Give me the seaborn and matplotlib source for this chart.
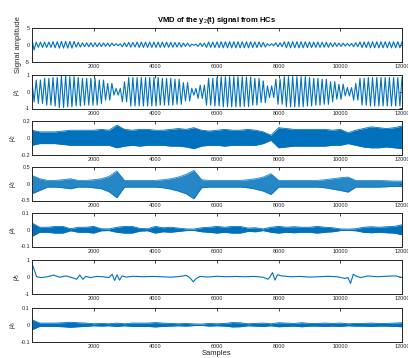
import numpy as np
import pandas as pd
import matplotlib
matplotlib.use("Agg")
import matplotlib.pyplot as plt
import seaborn as sns

# ---- data -------------------------------------------------------------
N_SAMPLES = 12000
ENV_STEP = 250          # envelope values are given every 250 samples (0..12000)

x_ticks = [2000, 4000, 6000, 8000, 10000, 12000]

# measured signal: peak amplitude per 250-sample block
sig_env = [1.6, 0.8, 0.8, 0.9, 1.0, 1.0, 0.7, 0.6, 0.6, 0.55,
           0.5, 0.3, 0.6, 0.7, 0.8, 0.8, 0.8, 0.8, 0.75, 0.7,
           0.5, 0.15, 0.5, 0.8, 0.85, 0.9, 0.9, 0.9, 0.9, 0.85,
           0.7, 0.3, 0.6, 0.9, 0.9, 0.9, 0.85, 0.8, 0.75, 0.6,
           0.5, 0.4, 0.6, 0.85, 0.9, 0.9, 0.9, 0.9, 0.9]
sig_cycles = 88

# mode 1
u1_env = [0.6, 0.7, 0.8, 0.85, 0.95, 0.9, 0.85, 0.8, 0.8, 0.7,
          0.5, 0.2, 0.6, 0.85, 0.85, 0.85, 0.85, 0.8, 0.8, 0.75,
          0.55, 0.2, 0.4, 0.8, 0.85, 0.9, 0.9, 0.9, 0.88, 0.8,
          0.65, 0.35, 0.75, 0.9, 0.9, 0.9, 0.85, 0.8, 0.75, 0.6,
          0.45, 0.25, 0.5, 0.8, 0.85, 0.85, 0.85, 0.85, 0.85]
u1_cycles = 88

# mode 2 (upper / lower envelope)
u2_up = [0.09, 0.07, 0.07, 0.07, 0.08, 0.09, 0.09, 0.09, 0.09, 0.1,
         0.09, 0.15, 0.1, 0.09, 0.1, 0.1, 0.09, 0.09, 0.1, 0.11,
         0.1, 0.12, 0.09, 0.08, 0.09, 0.1, 0.09, 0.09, 0.1, 0.09,
         0.07, 0.03, 0.12, 0.11, 0.1, 0.1, 0.1, 0.1, 0.1, 0.09,
         0.1, 0.06, 0.09, 0.11, 0.13, 0.12, 0.11, 0.12, 0.14]
u2_lo = [0.09, 0.07, 0.07, 0.07, 0.08, 0.09, 0.09, 0.09, 0.09, 0.09,
         0.09, 0.12, 0.1, 0.09, 0.1, 0.09, 0.09, 0.09, 0.1, 0.1,
         0.11, 0.13, 0.1, 0.09, 0.09, 0.1, 0.09, 0.09, 0.09, 0.09,
         0.07, 0.03, 0.12, 0.11, 0.1, 0.1, 0.1, 0.1, 0.1, 0.09,
         0.09, 0.07, 0.09, 0.11, 0.12, 0.12, 0.11, 0.12, 0.13]

# mode 3 (upper / lower envelope)
u3_up = [0.25, 0.15, 0.1, 0.1, 0.12, 0.15, 0.1, 0.1, 0.12, 0.15,
         0.22, 0.38, 0.1, 0.1, 0.1, 0.1, 0.1, 0.12, 0.15, 0.2,
         0.28, 0.4, 0.12, 0.1, 0.1, 0.1, 0.1, 0.1, 0.12, 0.15,
         0.2, 0.3, 0.1, 0.1, 0.1, 0.1, 0.1, 0.1, 0.12, 0.15,
         0.18, 0.2, 0.1, 0.1, 0.1, 0.1, 0.09, 0.08, 0.08]
u3_lo = [0.3, 0.2, 0.1, 0.1, 0.12, 0.15, 0.1, 0.1, 0.12, 0.15,
         0.24, 0.42, 0.1, 0.1, 0.1, 0.1, 0.1, 0.12, 0.16, 0.22,
         0.3, 0.45, 0.12, 0.1, 0.1, 0.1, 0.1, 0.1, 0.12, 0.16,
         0.22, 0.32, 0.1, 0.1, 0.1, 0.1, 0.1, 0.1, 0.12, 0.16,
         0.2, 0.25, 0.1, 0.1, 0.1, 0.1, 0.09, 0.08, 0.08]

# mode 4
u4_env = [0.04, 0.015, 0.015, 0.02, 0.02, 0.006, 0.015, 0.015, 0.02, 0.006,
          0.005, 0.015, 0.02, 0.02, 0.008, 0.006, 0.02, 0.012, 0.015, 0.01,
          0.005, 0.004, 0.012, 0.015, 0.02, 0.015, 0.02, 0.02, 0.01, 0.012,
          0.005, 0.015, 0.02, 0.015, 0.018, 0.015, 0.015, 0.02, 0.015, 0.012,
          0.005, 0.004, 0.006, 0.015, 0.018, 0.015, 0.018, 0.02, 0.03]

# mode 5: slow component, value at given sample positions
u5_samples = [0, 150, 300, 500, 700, 900, 1100, 1300, 1450, 1550,
              1650, 1750, 1900, 2100, 2300, 2500, 2600, 2680, 2760, 2840,
              2920, 3050, 3300, 3600, 3900, 4200, 4500, 4800, 5000, 5120,
              5230, 5330, 5450, 5700, 6000, 6300, 6600, 6900, 7200, 7500,
              7650, 7720, 7800, 7880, 7960, 8100, 8400, 8700, 9000, 9300,
              9600, 9900, 10150, 10250, 10330, 10420, 10500, 10650, 10900, 11200,
              11500, 11800, 12000]
u5_values = [0.8, 0.0, -0.05, 0.0, 0.1, -0.03, 0.05, -0.05, -0.15, 0.1,
             -0.15, 0.02, -0.05, 0.02, 0.0, -0.05, 0.15, -0.22, 0.12, -0.2,
             0.05, -0.02, 0.03, 0.0, 0.02, 0.0, -0.03, 0.02, 0.08, -0.05,
             -0.3, -0.1, 0.02, -0.02, 0.03, 0.0, 0.02, 0.0, 0.02, -0.03,
             -0.15, 0.0, 0.25, -0.2, 0.12, 0.05, 0.0, 0.02, -0.02, 0.0,
             0.03, 0.0, -0.1, -0.05, -0.4, 0.15, 0.05, -0.05, 0.05, 0.0,
             0.03, 0.05, -0.05]

# mode 6
u6_env = [0.03, 0.01, 0.01, 0.01, 0.012, 0.015, 0.012, 0.01, 0.006, 0.008,
          0.006, 0.01, 0.006, 0.01, 0.01, 0.01, 0.013, 0.01, 0.008, 0.006,
          0.008, 0.005, 0.004, 0.008, 0.006, 0.008, 0.013, 0.012, 0.006, 0.008,
          0.01, 0.006, 0.012, 0.01, 0.008, 0.012, 0.008, 0.008, 0.01, 0.008,
          0.01, 0.006, 0.008, 0.008, 0.01, 0.008, 0.008, 0.01, 0.012]

y_labels = ["Signal amplitude", r"$\mu_1$", r"$\mu_2$", r"$\mu_3$",
            r"$\mu_4$", r"$\mu_5$", r"$\mu_6$"]
y_limits = [5, 1, 0.2, 0.5, 0.1, 1, 0.1]
y_ticklabels = [["-5", "0", "5"], ["-1", "0", "1"], ["-0.2", "0", "0.2"],
                ["-0.5", "0", "0.5"], ["-0.1", "0", "0.1"], ["-1", "0", "1"],
                ["-0.1", "0", "0.1"]]

LINE_COLOR = "#0072BD"
EDGE_COLOR = "#262626"


def oscillation(env, cycles):
    """Alternating extrema whose heights follow the block envelope."""
    env = np.asarray(env, float)
    n = 2 * cycles + 1
    s = np.linspace(1, N_SAMPLES, n)
    idx = np.clip(np.rint(s / ENV_STEP).astype(int), 0, len(env) - 1)
    sign = np.where(np.arange(n) % 2 == 0, 1.0, -1.0)
    return pd.DataFrame({"sample": s, "value": sign * env[idx]})


def draw_wave(ax, env, cycles, lw=0.8):
    df = oscillation(env, cycles)
    sns.lineplot(data=df, x="sample", y="value", ax=ax, color=LINE_COLOR,
                 linewidth=lw, estimator=None, sort=False)


def draw_band(ax, up, lo, alpha=1.0):
    s = np.arange(len(up)) * ENV_STEP
    s = np.clip(s, 1, N_SAMPLES)
    df = pd.DataFrame({"sample": np.concatenate([s, s]),
                       "value": np.concatenate([np.asarray(up), -np.asarray(lo)]),
                       "edge": ["up"] * len(s) + ["lo"] * len(s)})
    sns.lineplot(data=df, x="sample", y="value", units="edge", ax=ax,
                 color=LINE_COLOR, linewidth=0.6, estimator=None, alpha=alpha)
    ax.fill_between(s, np.asarray(up), -np.asarray(lo), color=LINE_COLOR,
                    alpha=alpha, linewidth=0)


def draw_line(ax, xs, ys):
    df = pd.DataFrame({"sample": xs, "value": ys})
    sns.lineplot(data=df, x="sample", y="value", ax=ax, color=LINE_COLOR,
                 linewidth=0.8, estimator=None, sort=False)


# ---- figure -----------------------------------------------------------
sns.set_style("white")
plt.rcParams["font.family"] = ["Liberation Sans", "DejaVu Sans"]
plt.rcParams["mathtext.fontset"] = "custom"
plt.rcParams["mathtext.rm"] = "Liberation Sans"
plt.rcParams["mathtext.it"] = "Liberation Sans:italic"

W, H = 408, 358
fig = plt.figure(figsize=(W / 100, H / 100), dpi=100)
fig.patch.set_facecolor("white")

left_px, right_px = 32, 402
tops_px = [28, 75, 121, 167, 213, 260, 308]
height_px = 33.5

axes = []
for i in range(7):
    ax = fig.add_axes([left_px / W, 1 - (tops_px[i] + height_px) / H,
                       (right_px - left_px) / W, height_px / H])
    axes.append(ax)

draw_wave(axes[0], sig_env, sig_cycles)
draw_wave(axes[1], u1_env, u1_cycles)
draw_band(axes[2], u2_up, u2_lo)
draw_band(axes[3], u3_up, u3_lo, alpha=0.85)
draw_band(axes[4], u4_env, u4_env)
draw_line(axes[5], u5_samples, u5_values)
draw_band(axes[6], u6_env, u6_env)

for i, ax in enumerate(axes):
    lim = y_limits[i]
    ax.set_xlim(1, N_SAMPLES)
    ax.set_ylim(-lim, lim)
    ax.set_xticks(x_ticks)
    ax.set_xticklabels([str(t) for t in x_ticks])
    ax.set_yticks([-lim, 0, lim])
    ax.set_yticklabels(y_ticklabels[i])
    ax.tick_params(direction="in", length=2.2, width=0.6, top=True, right=True,
                   labelsize=4, pad=1.5, colors=EDGE_COLOR)
    for sp in ax.spines.values():
        sp.set_visible(True)
        sp.set_color(EDGE_COLOR)
        sp.set_linewidth(0.7)
    ax.set_xlabel("Samples" if i == 6 else "", fontsize=5.5, labelpad=1,
                  color=EDGE_COLOR)
    ax.set_ylabel(y_labels[i], fontsize=5.5 if i == 0 else 5, labelpad=2,
                  color=EDGE_COLOR)

axes[0].set_title(r"VMD of the y$_2$(t) signal from HCs", fontsize=5.5,
                  fontweight="bold", pad=4, color="black")

fig.savefig("out.png", dpi=100, facecolor="white")
